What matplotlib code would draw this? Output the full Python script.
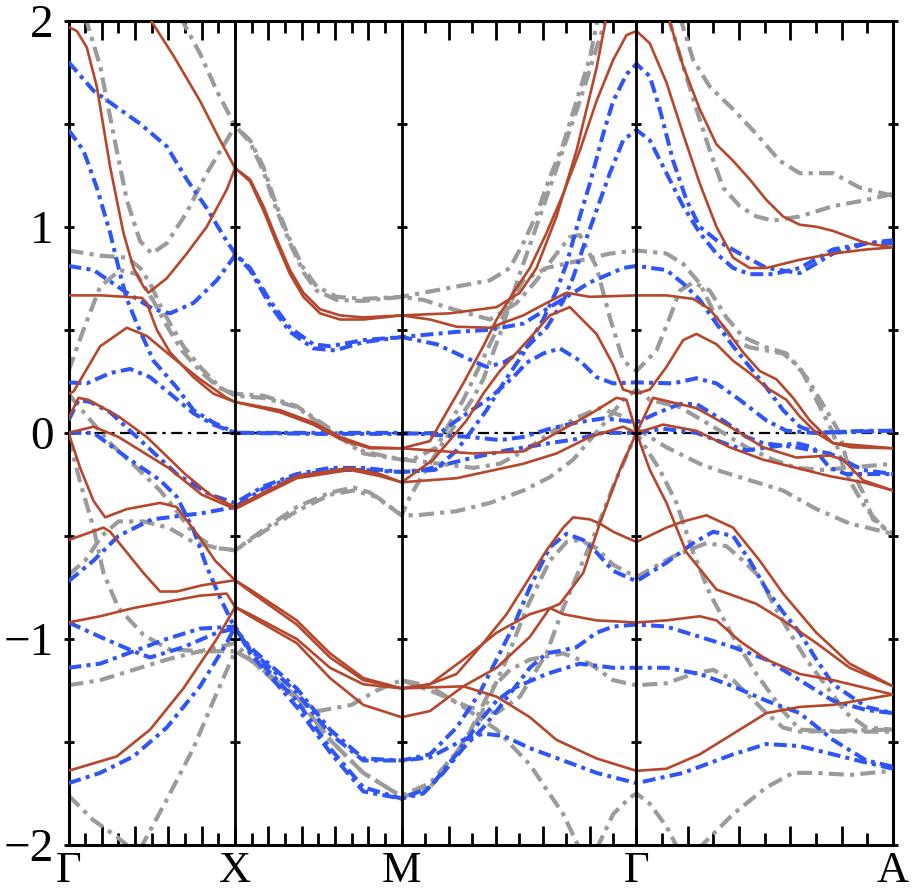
import numpy as np
import matplotlib
matplotlib.use("Agg")
import matplotlib.pyplot as plt

plt.rcParams['font.family'] = 'Liberation Serif'
SERIF = 'Liberation Serif'

# k-path: high-symmetry points and labels
kpoints = [0.0, 1.0, 2.0, 3.41, 4.95]
klabels = ['Γ', 'X', 'M', 'Γ', 'A']
ylim = (-2.0, 2.0)
yticks_major = [-2, -1, 0, 1, 2]
ytick_labels = ['−2', '−1', '0', '1', '2']
yticks_minor = [-1.5, -0.5, 0.5, 1.5]

red_bands = [
    [(0,1.97),(0.05,1.95),(0.11,1.87),(0.17,1.68),(0.25,1.29),(0.33,0.97),(0.39,0.80),(0.45,0.71),(0.48,0.68),
     (0.59,0.75),(0.71,0.87),(0.83,1.00),(0.95,1.18),(1.0,1.285),(1.09,1.23),(1.17,1.10),(1.25,0.94),(1.33,0.79),
     (1.41,0.68),(1.51,0.60),(1.63,0.57),(1.77,0.56),(2.0,0.57),(2.29,0.58),(2.57,0.61),(2.71,0.68),(2.81,0.80),
     (2.93,1.05),(3.05,1.37),(3.17,1.77),(3.23,2.02)],
    [(0.48,2.02),(0.63,1.83),(0.79,1.61),(0.91,1.42),(1.0,1.285),(1.09,1.22),(1.17,1.08),(1.25,0.92),(1.33,0.77),
     (1.41,0.66),(1.51,0.58),(1.63,0.55),(1.77,0.55),(2.0,0.57),(2.17,0.55),(2.33,0.515),(2.53,0.51),(2.73,0.57),
     (2.87,0.63),(2.99,0.68),(3.13,0.66),(3.41,0.667),(3.59,0.667),(3.75,0.65),(3.85,0.60),(3.95,0.50),(4.05,0.39),
     (4.15,0.30),(4.25,0.26),(4.35,0.17),(4.45,0.06),(4.59,-0.05),(4.95,-0.075)],
    [(0,0.667),(0.2,0.667),(0.44,0.655),(0.47,0.63),(0.53,0.50),(0.61,0.39),(0.75,0.27),(0.87,0.19),(1.0,0.15),
     (1.27,0.11),(1.47,0.05),(1.63,-0.02),(1.81,-0.07),(2.0,-0.075),(2.17,-0.04),(2.27,0.10),(2.37,0.24),(2.49,0.42),
     (2.57,0.55),(2.67,0.68),(2.77,0.80),(2.87,0.97),(2.97,1.16),(3.07,1.37),(3.17,1.61),(3.27,1.81),(3.35,1.93),
     (3.41,1.95),(3.49,1.89),(3.59,1.70),(3.69,1.45),(3.79,1.21),(3.89,1.0),(3.99,0.85),(4.09,0.80),(4.19,0.80),
     (4.39,0.84),(4.59,0.87),(4.79,0.89),(4.95,0.90)],
    [(0,0.19),(0.03,0.20),(0.19,0.42),(0.35,0.51),(0.47,0.47),(0.65,0.35),(0.79,0.26),(0.95,0.17),(1.0,0.15),
     (1.27,0.10),(1.47,0.04),(1.63,-0.03),(1.81,-0.075),(2.0,-0.075),(2.43,-0.10),(2.73,-0.09),(2.93,0.0),
     (3.13,0.09),(3.29,0.17),(3.35,0.16),(3.41,0.0),(3.51,0.17),(3.77,0.12),(3.97,0.03),(4.17,-0.07),(4.37,-0.12),
     (4.57,-0.11),(4.65,-0.13),(4.77,-0.23),(4.95,-0.28)],
    [(0,0.07),(0.06,0.17),(0.12,0.16),(0.3,0.08),(0.47,-0.02),(0.7,-0.2),(0.85,-0.3),(1.0,-0.36),(1.17,-0.29),
     (1.37,-0.21),(1.69,-0.17),(1.87,-0.2),(2.0,-0.24),(2.19,-0.13),(2.39,0.06),(2.49,0.19),(2.59,0.30),(2.77,0.46),
     (2.89,0.57),(3.01,0.61),(3.17,0.48),(3.27,0.33),(3.33,0.21),(3.41,0.19),(3.49,0.21),(3.59,0.32),(3.69,0.45),
     (3.77,0.48),(3.89,0.43),(3.99,0.35),(4.09,0.29),(4.19,0.22),(4.31,0.16),(4.39,0.08),(4.49,0.0),(4.59,-0.05),
     (4.7,-0.07),(4.95,-0.075)],
    [(0,0.0),(0.15,0.03),(0.3,-0.02),(0.6,-0.17),(0.8,-0.3),(1.0,-0.37),(1.17,-0.30),(1.37,-0.22),(1.69,-0.18),
     (1.87,-0.21),(2.0,-0.24),(2.33,-0.22),(2.73,-0.15),(2.93,-0.10),(3.13,-0.02),(3.33,0.03),(3.41,0.0),
     (3.57,0.04),(3.77,0.01),(3.97,-0.07),(4.17,-0.13),(4.37,-0.17),(4.57,-0.21),(4.77,-0.24),(4.95,-0.28)],
    [(0,0.0),(0.07,-0.17),(0.15,-0.33),(0.22,-0.41),(0.35,-0.37),(0.55,-0.34),(0.65,-0.36),(0.78,-0.5),(0.88,-0.62),
     (1.0,-0.715),(1.09,-0.76),(1.37,-0.91),(1.57,-1.07),(1.77,-1.19),(2.0,-1.24),(2.17,-1.22),(2.33,-1.17),
     (2.47,-1.04),(2.63,-0.88),(2.77,-0.70),(2.87,-0.57),(2.97,-0.46),(3.03,-0.41),(3.13,-0.42),(3.19,-0.44),
     (3.27,-0.48),(3.41,-0.53),(3.59,-0.46),(3.69,-0.43),(3.83,-0.40),(3.99,-0.46),(4.15,-0.62),(4.29,-0.78),
     (4.49,-0.97),(4.69,-1.12),(4.95,-1.23)],
    [(0,-0.52),(0.21,-0.46),(0.25,-0.48),(0.45,-0.68),(0.55,-0.77),(0.65,-0.77),(0.8,-0.74),(1.0,-0.715),
     (1.09,-0.77),(1.37,-0.93),(1.57,-1.09),(1.77,-1.2),(2.0,-1.24),(2.17,-1.22),(2.37,-1.1),(2.57,-0.97),
     (2.77,-0.88),(2.89,-0.85),(2.97,-0.88),(3.17,-0.91),(3.41,-0.92),(3.59,-0.91),(3.79,-0.89),(3.89,-0.91),
     (4.03,-1.01),(4.19,-1.10),(4.39,-1.17),(4.59,-1.20),(4.95,-1.27)],
    [(0,-0.92),(0.19,-0.89),(0.39,-0.85),(0.59,-0.82),(0.79,-0.79),(0.95,-0.78),(1.0,-0.845),(1.09,-0.89),
     (1.37,-1.02),(1.57,-1.19),(1.77,-1.32),(2.0,-1.38),(2.17,-1.35),(2.37,-1.23),(2.57,-1.14),(2.77,-0.99),
     (2.89,-0.85),(2.95,-0.83),(3.09,-0.68),(3.19,-0.44),(3.31,-0.18),(3.41,0.0),(3.49,-0.18),(3.59,-0.34),
     (3.71,-0.58),(3.89,-0.76),(4.13,-0.83),(4.29,-0.91),(4.49,-1.02),(4.69,-1.14),(4.95,-1.23)],
    [(0,-1.64),(0.29,-1.57),(0.49,-1.44),(0.69,-1.24),(0.89,-1.0),(0.99,-0.86),(1.0,-0.845),(1.09,-0.88),
     (1.37,-1.0),(1.57,-1.14),(1.77,-1.22),(2.0,-1.24),(2.37,-1.23),(2.57,-1.28),(2.77,-1.38),(2.93,-1.49),
     (3.17,-1.58),(3.41,-1.64),(3.59,-1.63),(3.79,-1.56),(3.99,-1.46),(4.19,-1.36),(4.39,-1.33),(4.59,-1.32),
     (4.95,-1.27)],
    [(3.60,2.02),(3.69,1.78),(3.79,1.57),(3.89,1.40),(3.99,1.32),(4.09,1.23),(4.19,1.13),(4.29,1.05),(4.39,1.01),
     (4.49,1.0),(4.59,0.98),(4.69,0.95),(4.79,0.92),(4.95,0.90)],
]

blue_bands = [
    [(0,1.80),(0.15,1.66),(0.29,1.58),(0.43,1.50),(0.59,1.39),(0.71,1.23),(0.83,1.09),(0.95,0.93),(1.0,0.87),
     (1.09,0.80),(1.21,0.64),(1.33,0.51),(1.47,0.43),(1.57,0.42),(1.77,0.45),(2.0,0.465),(2.21,0.43),(2.37,0.37),
     (2.51,0.32),(2.61,0.34),(2.73,0.40),(2.87,0.51),(2.97,0.64),(3.03,0.755),(3.09,0.90),(3.17,1.08),(3.25,1.26),
     (3.33,1.42),(3.41,1.47),(3.49,1.42),(3.59,1.26),(3.69,1.10),(3.79,0.97),(3.89,0.87),(3.99,0.80),(4.09,0.77),
     (4.23,0.77),(4.39,0.80),(4.59,0.89),(4.79,0.92),(4.95,0.92)],
    [(0,1.47),(0.09,1.37),(0.17,1.19),(0.25,0.97),(0.31,0.77),(0.35,0.65),(0.41,0.53),(0.51,0.35),(0.65,0.22),
     (0.75,0.11),(0.87,0.05),(1.0,0.0),(1.5,-0.005),(2.0,-0.005),(2.23,0.0),(2.33,0.06),(2.53,0.17),(2.67,0.27),
     (2.75,0.34),(2.85,0.385),(2.95,0.41),(3.07,0.35),(3.17,0.27),(3.27,0.24),(3.41,0.245),(3.63,0.24),
     (3.77,0.265),(3.89,0.24),(4.03,0.16),(4.19,0.06),(4.31,0.01),(4.47,0.0),(4.95,0.01)],
    [(0,0.81),(0.15,0.79),(0.35,0.68),(0.51,0.60),(0.61,0.58),(0.75,0.63),(0.89,0.74),(0.99,0.85),(1.0,0.87),
     (1.09,0.79),(1.21,0.62),(1.33,0.49),(1.47,0.41),(1.6,0.40),(1.77,0.44),(2.0,0.465),(2.33,0.49),(2.53,0.50),
     (2.73,0.53),(2.93,0.63),(3.13,0.73),(3.33,0.80),(3.41,0.81),(3.59,0.79),(3.69,0.725),(3.79,0.645),(3.89,0.53),
     (3.99,0.42),(4.09,0.32),(4.19,0.22),(4.29,0.11),(4.39,0.03),(4.49,0.0),(4.79,0.01),(4.95,0.01)],
    [(0,0.245),(0.11,0.24),(0.25,0.29),(0.37,0.31),(0.49,0.27),(0.61,0.19),(0.75,0.095),(0.87,0.04),(1.0,0.0),
     (2.0,0.0),(2.41,-0.02),(2.59,-0.035),(2.73,-0.02),(2.89,0.02),(3.05,0.05),(3.21,0.07),(3.33,0.06),(3.41,0.05),
     (3.53,0.095),(3.67,0.14),(3.77,0.14),(3.93,0.06),(4.07,-0.02),(4.17,-0.05),(4.37,-0.07),(4.57,-0.1),
     (4.77,-0.18),(4.95,-0.2)],
    [(0,0.06),(0.06,0.16),(0.13,0.15),(0.25,0.1),(0.45,-0.05),(0.65,-0.2),(0.85,-0.3),(1.0,-0.34),(1.17,-0.26),
     (1.37,-0.2),(1.57,-0.17),(1.77,-0.17),(2.0,-0.19),(2.2,-0.18),(2.33,-0.085),(2.41,0.0),(2.51,0.11),(2.61,0.24),
     (2.73,0.385),(2.85,0.55),(2.93,0.69),(2.99,0.82),(3.07,1.05),(3.13,1.21),(3.21,1.45),(3.27,1.61),(3.35,1.74),
     (3.41,1.79),(3.49,1.73),(3.55,1.57),(3.63,1.32),(3.71,1.13),(3.79,1.0),(3.89,0.935),(4.03,0.87),(4.19,0.80),
     (4.39,0.775),(4.59,0.87),(4.79,0.92),(4.95,0.935)],
    [(0,0.0),(0.15,0.0),(0.35,-0.12),(0.55,-0.23),(0.65,-0.31),(0.75,-0.47),(0.83,-0.65),(0.91,-0.8),(1.0,-0.95),
     (1.09,-1.04),(1.37,-1.24),(1.57,-1.44),(1.77,-1.58),(2.0,-1.59),(2.17,-1.56),(2.33,-1.43),(2.47,-1.26),
     (2.57,-1.10),(2.67,-0.94),(2.77,-0.75),(2.89,-0.555),(2.99,-0.49),(3.09,-0.52),(3.17,-0.58),(3.27,-0.67),
     (3.41,-0.72),(3.59,-0.63),(3.75,-0.535),(3.87,-0.48),(3.99,-0.50),(4.09,-0.62),(4.19,-0.76),(4.29,-0.87),
     (4.39,-0.97),(4.49,-1.10),(4.59,-1.22),(4.79,-1.33),(4.95,-1.36)],
    [(0,-0.72),(0.15,-0.62),(0.3,-0.5),(0.5,-0.42),(0.8,-0.39),(1.0,-0.36),(1.17,-0.27),(1.37,-0.21),(1.57,-0.18),
     (1.77,-0.18),(2.0,-0.19),(2.13,-0.18),(2.43,-0.12),(2.63,-0.085),(2.89,-0.05),(3.05,-0.03),(3.21,0.0),
     (3.41,0.0),(3.57,0.02),(3.77,0.0),(3.97,-0.06),(4.07,-0.085),(4.21,-0.07),(4.37,-0.05),(4.47,-0.07),
     (4.57,-0.17),(4.67,-0.2),(4.95,-0.2)],
    [(0,-0.92),(0.19,-0.99),(0.39,-1.06),(0.49,-1.09),(0.69,-1.04),(0.89,-0.97),(1.0,-0.95),(1.09,-1.05),
     (1.37,-1.26),(1.57,-1.46),(1.77,-1.59),(2.0,-1.59),(2.17,-1.575),(2.37,-1.49),(2.49,-1.46),(2.61,-1.47),
     (2.77,-1.53),(2.97,-1.59),(3.17,-1.65),(3.41,-1.70),(3.69,-1.65),(3.99,-1.56),(4.19,-1.51),(4.39,-1.52),
     (4.59,-1.56),(4.79,-1.60),(4.95,-1.63)],
    [(0,-1.14),(0.19,-1.12),(0.39,-1.06),(0.59,-1.0),(0.79,-0.95),(1.0,-0.94),(1.09,-1.06),(1.37,-1.3),
     (1.57,-1.53),(1.77,-1.72),(2.0,-1.775),(2.13,-1.75),(2.25,-1.65),(2.37,-1.53),(2.49,-1.43),(2.57,-1.35),
     (2.77,-1.14),(2.87,-1.07),(2.97,-1.055),(3.05,-1.04),(3.17,-0.97),(3.27,-0.94),(3.41,-0.93),(3.59,-0.94),
     (3.79,-0.99),(3.99,-1.04),(4.19,-1.10),(4.39,-1.20),(4.59,-1.30),(4.79,-1.345),(4.95,-1.36)],
    [(0,-1.70),(0.19,-1.65),(0.39,-1.57),(0.59,-1.43),(0.79,-1.23),(0.95,-1.02),(1.0,-0.94),(1.09,-1.07),
     (1.37,-1.33),(1.57,-1.55),(1.77,-1.74),(2.0,-1.775),(2.17,-1.72),(2.33,-1.56),(2.47,-1.40),(2.57,-1.30),
     (2.67,-1.24),(2.87,-1.17),(3.07,-1.12),(3.27,-1.14),(3.41,-1.14),(3.59,-1.14),(3.79,-1.17),(3.99,-1.23),
     (4.19,-1.30),(4.39,-1.36),(4.59,-1.49),(4.79,-1.59),(4.95,-1.62)],
]

gray_bands = [
    [(0.10,2.02),(0.19,1.78),(0.27,1.45),(0.35,1.13),(0.43,0.93),(0.50,0.87),(0.59,0.92),(0.71,1.07),(0.83,1.26),
     (0.95,1.42),(1.0,1.49),(1.09,1.42),(1.17,1.29),(1.25,1.10),(1.33,0.935),(1.41,0.80),(1.49,0.71),(1.61,0.66),
     (1.77,0.65),(2.0,0.66),(2.13,0.68),(2.33,0.71),(2.53,0.74),(2.65,0.80),(2.73,0.92),(2.81,1.06),(2.89,1.24),
     (2.97,1.40),(3.05,1.61),(3.13,1.82),(3.18,2.02)],
    [(0.67,2.02),(0.79,1.84),(0.89,1.66),(1.0,1.49),(1.09,1.41),(1.17,1.27),(1.25,1.08),(1.33,0.92),(1.41,0.78),
     (1.49,0.69),(1.61,0.645),(1.77,0.64),(2.0,0.66),(2.13,0.645),(2.33,0.595),(2.53,0.55),(2.69,0.63),(2.81,0.74),
     (2.93,0.87),(3.01,0.95),(3.07,0.96),(3.17,0.805),(3.25,0.56),(3.33,0.35),(3.41,0.30),(3.53,0.40),(3.61,0.56),
     (3.67,0.69),(3.75,0.73),(3.85,0.69),(3.95,0.56),(4.05,0.465),(4.19,0.415),(4.31,0.385),(4.43,0.27),
     (4.55,0.11),(4.63,0.0),(4.67,-0.13),(4.77,-0.29),(4.83,-0.42),(4.95,-0.49)],
    [(0,0.885),(0.19,0.86),(0.35,0.85),(0.43,0.80),(0.49,0.725),(0.55,0.62),(0.61,0.53),(0.69,0.42),(0.79,0.32),
     (0.91,0.22),(1.0,0.18),(1.17,0.17),(1.37,0.125),(1.57,0.01),(1.77,-0.1),(2.0,-0.13),(2.09,-0.12),(2.21,-0.07),
     (2.29,0.05),(2.37,0.16),(2.43,0.26),(2.53,0.43),(2.63,0.6),(2.73,0.74),(2.87,0.8),(3.09,0.84),(3.25,0.87),
     (3.41,0.885),(3.59,0.87),(3.69,0.82),(3.79,0.725),(3.89,0.56),(3.99,0.45),(4.09,0.415),(4.29,0.385),
     (4.39,0.32),(4.49,0.16),(4.59,0.0),(4.65,-0.16),(4.71,-0.26),(4.79,-0.37),(4.89,-0.46),(4.95,-0.49)],
    [(0,0.30),(0.09,0.5),(0.19,0.71),(0.31,0.79),(0.41,0.77),(0.51,0.64),(0.59,0.52),(0.68,0.40),(0.79,0.3),
     (0.9,0.22),(1.0,0.19),(1.17,0.18),(1.37,0.13),(1.57,0.02),(1.77,-0.09),(2.0,-0.13),(2.13,-0.14),(2.33,-0.16),
     (2.43,-0.17),(2.59,-0.15),(2.75,-0.08),(2.93,0.02),(3.07,0.08),(3.19,0.12),(3.33,0.08),(3.41,0.02),
     (3.59,-0.07),(3.79,-0.15),(3.89,-0.18),(4.09,-0.23),(4.29,-0.28),(4.49,-0.37),(4.69,-0.44),(4.95,-0.49)],
    [(0,0.19),(0.07,0.12),(0.25,-0.05),(0.41,-0.17),(0.55,-0.28),(0.65,-0.38),(0.75,-0.49),(0.87,-0.555),
     (1.0,-0.57),(1.17,-0.47),(1.37,-0.36),(1.57,-0.29),(1.71,-0.265),(1.81,-0.29),(1.93,-0.36),(2.0,-0.40),
     (2.09,-0.40),(2.33,-0.38),(2.53,-0.34),(2.73,-0.28),(2.89,-0.215),(3.03,-0.13),(3.13,-0.035),(3.23,0.06),
     (3.33,0.16),(3.41,0.21),(3.49,0.16),(3.67,0.125),(3.87,0.03),(4.07,-0.07),(4.23,-0.13),(4.37,-0.17),
     (4.53,-0.18),(4.67,-0.17),(4.95,-0.15)],
    [(0,-0.69),(0.1,-0.62),(0.2,-0.50),(0.3,-0.43),(0.45,-0.43),(0.6,-0.46),(0.75,-0.53),(0.9,-0.56),(1.0,-0.57),
     (1.17,-0.48),(1.37,-0.38),(1.57,-0.30),(1.71,-0.28),(1.85,-0.31),(2.0,-0.40),(2.05,-0.31),(2.13,-0.2),
     (2.23,-0.07),(2.33,0.05),(2.43,0.17),(2.49,0.26),(2.6,0.5),(2.7,0.75),(2.83,1.05),(2.95,1.33),(3.07,1.61),
     (3.23,2.02)],
    [(0,-0.02),(0.07,-0.24),(0.15,-0.46),(0.21,-0.68),(0.3,-0.85),(0.45,-0.98),(0.6,-1.05),(0.8,-1.06),
     (1.0,-1.06),(1.09,-1.1),(1.3,-1.25),(1.5,-1.35),(1.7,-1.32),(1.85,-1.25),(2.0,-1.2),(2.17,-1.23),
     (2.37,-1.33),(2.57,-1.44),(2.77,-1.61),(2.97,-1.85),(3.07,-2.02)],
    [(0,-1.225),(0.19,-1.2),(0.39,-1.15),(0.59,-1.1),(0.79,-1.06),(1.0,-1.02),(1.09,-1.1),(1.37,-1.28),
     (1.57,-1.49),(1.77,-1.65),(1.97,-1.75),(2.0,-1.76),(2.17,-1.7),(2.33,-1.55),(2.49,-1.35),(2.63,-1.1),
     (2.75,-0.85),(2.89,-0.62),(2.99,-0.53),(3.07,-0.52),(3.17,-0.56),(3.27,-0.64),(3.41,-0.70),(3.63,-0.60),
     (3.83,-0.535),(3.95,-0.55),(4.05,-0.62),(4.15,-0.70),(4.23,-0.83),(4.33,-0.97),(4.43,-1.10),(4.55,-1.23),
     (4.67,-1.36),(4.79,-1.43),(4.95,-1.44)],
    [(0,-1.76),(0.15,-1.88),(0.29,-1.96),(0.38,-2.02)],
    [(0.43,-2.02),(0.59,-1.78),(0.75,-1.53),(0.87,-1.30),(1.0,-1.06),(1.09,-1.10),(1.37,-1.28),(1.57,-1.49),
     (1.77,-1.65),(1.97,-1.75),(2.0,-1.77),(2.17,-1.72),(2.29,-1.6),(2.41,-1.45),(2.53,-1.25),(2.65,-1.15),
     (2.77,-1.1),(2.97,-1.07),(3.13,-1.12),(3.27,-1.2),(3.41,-1.225),(3.59,-1.215),(3.75,-1.17),(3.87,-1.15),
     (3.99,-1.2),(4.09,-1.28),(4.19,-1.36),(4.29,-1.43),(4.39,-1.45),(4.95,-1.44)],
    [(2.0,-1.2),(2.2,-1.26),(2.4,-1.33),(2.57,-1.36),(2.71,-1.28),(2.87,-1.07),(2.97,-0.85),(3.09,-0.62),
     (3.17,-0.47),(3.27,-0.26),(3.41,0.0),(3.55,-0.18),(3.65,-0.34),(3.75,-0.58),(3.85,-0.78),(3.99,-0.99),
     (4.13,-1.17),(4.29,-1.35),(4.39,-1.44),(4.59,-1.45),(4.95,-1.45)],
    [(3.17,-2.02),(3.27,-1.85),(3.37,-1.77),(3.41,-1.75),(3.49,-1.80),(3.59,-1.91),(3.66,-2.02)],
    [(3.78,-2.02),(3.99,-1.85),(4.19,-1.72),(4.35,-1.65),(4.49,-1.65),(4.69,-1.66),(4.95,-1.64)],
    [(3.60,2.02),(3.69,1.78),(3.77,1.57),(3.85,1.37),(3.93,1.19),(4.03,1.10),(4.13,1.05),(4.23,1.03),(4.39,1.05),
     (4.59,1.10),(4.79,1.13),(4.95,1.16)],
    [(3.67,2.02),(3.75,1.81),(3.85,1.68),(3.99,1.57),(4.13,1.45),(4.27,1.32),(4.39,1.26),(4.59,1.26),(4.75,1.19),
     (4.95,1.15)],
]

RED = '#B5472C'
BLUE = '#2F55F5'
GRAY = '#9B9B9B'

fig = plt.figure(figsize=(9.13, 8.92), dpi=100)
ax = fig.add_axes([68.5/913, 1-845/892, (893-68.5)/913, (845-20.7)/892])

# Fermi level
ax.plot([kpoints[0], kpoints[-1]], [0, 0], color='black', lw=1.6,
        linestyle=(0, (5, 2.5, 1.5, 2.5)), zorder=1)

for b in gray_bands:
    a = np.array(b)
    ax.plot(a[:, 0], a[:, 1], color=GRAY, lw=3.0, linestyle=(0, (3.6, 1.5, 1, 1.5)), zorder=2)
for b in blue_bands:
    a = np.array(b)
    ax.plot(a[:, 0], a[:, 1], color=BLUE, lw=2.9, linestyle=(0, (3.2, 1.3, 1, 1.3)), zorder=3)
for b in red_bands:
    a = np.array(b)
    ax.plot(a[:, 0], a[:, 1], color=RED, lw=1.9, linestyle='-', zorder=4)

# high-symmetry vertical lines with small ticks
inner_y = yticks_minor + yticks_major[1:-1]
for k in kpoints[1:-1]:
    ax.axvline(k, color='black', lw=2.0, zorder=6)
    ax.plot([k] * len(inner_y), inner_y, linestyle='none', marker='_', ms=7, mew=2.0,
            color='black', zorder=6)

ax.set_xlim(kpoints[0], kpoints[-1])
ax.set_ylim(*ylim)

# x ticks: 10 subdivisions per segment, alternating long / short
major_x, minor_x, labels = [], [], []
for i in range(len(kpoints) - 1):
    k0, k1 = kpoints[i], kpoints[i + 1]
    for j in range(10):
        x = k0 + (k1 - k0) * j / 10
        if j % 2 == 0:
            major_x.append(x)
            labels.append(klabels[i] if j == 0 else '')
        else:
            minor_x.append(x)
major_x.append(kpoints[-1])
labels.append(klabels[-1])
ax.set_xticks(major_x)
ax.set_xticklabels(labels)
ax.set_xticks(minor_x, minor=True)

ax.set_yticks(yticks_major)
ax.set_yticklabels(ytick_labels)
ax.set_yticks(yticks_minor, minor=True)

ax.tick_params(axis='x', which='major', direction='in', length=14, width=2.0,
               top=True, bottom=True, labelsize=32, pad=4)
ax.tick_params(axis='x', which='minor', direction='in', length=8.5, width=2.0,
               top=True, bottom=True)
ax.tick_params(axis='y', which='both', direction='inout', length=7, width=2.0,
               left=True, right=True, labelsize=34, pad=7)
for lab in ax.get_xticklabels() + ax.get_yticklabels():
    lab.set_fontfamily(SERIF)

for s in ax.spines.values():
    s.set_linewidth(2.2)

fig.savefig('out.png', dpi=100)
